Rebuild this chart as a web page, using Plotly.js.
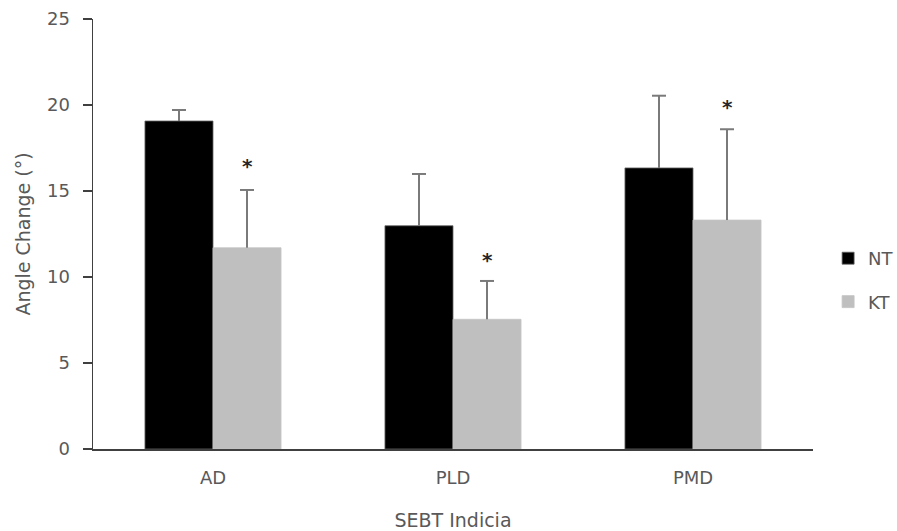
<!DOCTYPE html>
<html>
<head>
<meta charset="utf-8">
<script src="https://cdn.plot.ly/plotly-3.0.1.min.js"></script>
<style>
  html, body { margin: 0; padding: 0; background: #fff; }
  #chart { width: 897px; height: 531px; }
</style>
</head>
<body>
<div id="chart"></div>
<script>
// SEBT reach directions
const categories = ['AD', 'PLD', 'PMD'];

// Mean angle change (degrees) and SD for each taping condition
const ntMean = [19.07, 12.98, 16.34];
const ntSD   = [0.64, 3.01, 4.20];
const ktMean = [11.70, 7.54, 13.31];
const ktSD   = [3.36, 2.23, 5.28];

// Height of the significance markers above the KT bars
const starY = [16.7, 11.2, 20.1];

const axisGrey = '#404040';
const textGrey = '#595959';
const errGrey = '#7a7a7a';
const fontFamily = '"DejaVu Sans", Verdana, sans-serif';

// Plot geometry: 3 category bands across the plot width, two bars per band
const plotW = 720;
const bargap = 0.433;
const bandPx = plotW / categories.length;
const barPx = bandPx * (1 - bargap) / 2;
const capHalf = 7;

const traces = [
  {
    type: 'bar', name: 'NT', x: categories, y: ntMean,
    marker: { color: '#000000', line: { color: '#666666', width: 0.8 } },
    legendgroup: 'nt', hoverinfo: 'x+y'
  },
  {
    type: 'bar', name: 'KT', x: categories, y: ktMean,
    marker: { color: '#bfbfbf', line: { color: '#c4c4c4', width: 0.8 } },
    legendgroup: 'kt', hoverinfo: 'x+y'
  }
];

// Upper-only SD whiskers, positioned over each bar of the group
function whiskers(means, sds, offset) {
  const out = [];
  categories.forEach((c, i) => {
    const top = means[i] + sds[i];
    const base = { type: 'line', xref: 'x', yref: 'y', xsizemode: 'pixel', xanchor: c,
                   layer: 'above', line: { color: errGrey, width: 2 } };
    out.push(Object.assign({}, base, { x0: offset, x1: offset, y0: means[i], y1: top }));
    out.push(Object.assign({}, base, { x0: offset - capHalf, x1: offset + capHalf, y0: top, y1: top }));
  });
  return out;
}

const shapes = whiskers(ntMean, ntSD, -barPx / 2).concat(whiskers(ktMean, ktSD, barPx / 2));

const annotations = categories.map((c, i) => ({
  x: c, y: starY[i], xref: 'x', yref: 'y',
  xshift: barPx / 2, yshift: -4,
  text: '<b>*</b>', showarrow: false,
  font: { family: fontFamily, size: 20, color: '#262626' },
  xanchor: 'center', yanchor: 'middle'
}));

const layout = {
  width: 897, height: 531,
  margin: { l: 93, r: 897 - 93 - plotW, t: 19, b: 82, autoexpand: false },
  paper_bgcolor: '#ffffff', plot_bgcolor: '#ffffff',
  font: { family: fontFamily, size: 18, color: textGrey },
  barmode: 'group',
  bargap: bargap, bargroupgap: 0,
  showlegend: true,
  legend: {
    x: 1.021, y: 0.393, xanchor: 'left', yanchor: 'middle',
    traceorder: 'grouped', tracegroupgap: 17,
    font: { family: fontFamily, size: 18, color: textGrey },
    bgcolor: 'rgba(0,0,0,0)'
  },
  xaxis: {
    type: 'category',
    showline: true, linecolor: axisGrey, linewidth: 1.5,
    ticks: '', showgrid: false, zeroline: false,
    tickfont: { family: fontFamily, size: 18, color: textGrey },
    ticklabelstandoff: 12,
    title: { text: 'SEBT Indicia', standoff: 27, font: { family: fontFamily, size: 19, color: textGrey } }
  },
  yaxis: {
    range: [0, 25], dtick: 5, tick0: 0,
    showline: true, linecolor: axisGrey, linewidth: 1.5,
    ticks: 'outside', ticklen: 9, tickwidth: 1.5, tickcolor: axisGrey,
    showgrid: false, zeroline: false,
    tickfont: { family: fontFamily, size: 18, color: textGrey },
    ticklabelstandoff: 9,
    title: { text: 'Angle Change (°)', standoff: 11, font: { family: fontFamily, size: 19, color: textGrey } }
  },
  shapes: shapes,
  annotations: annotations
};

Plotly.newPlot('chart', traces, layout, { displayModeBar: false, staticPlot: true });
</script>
</body>
</html>
